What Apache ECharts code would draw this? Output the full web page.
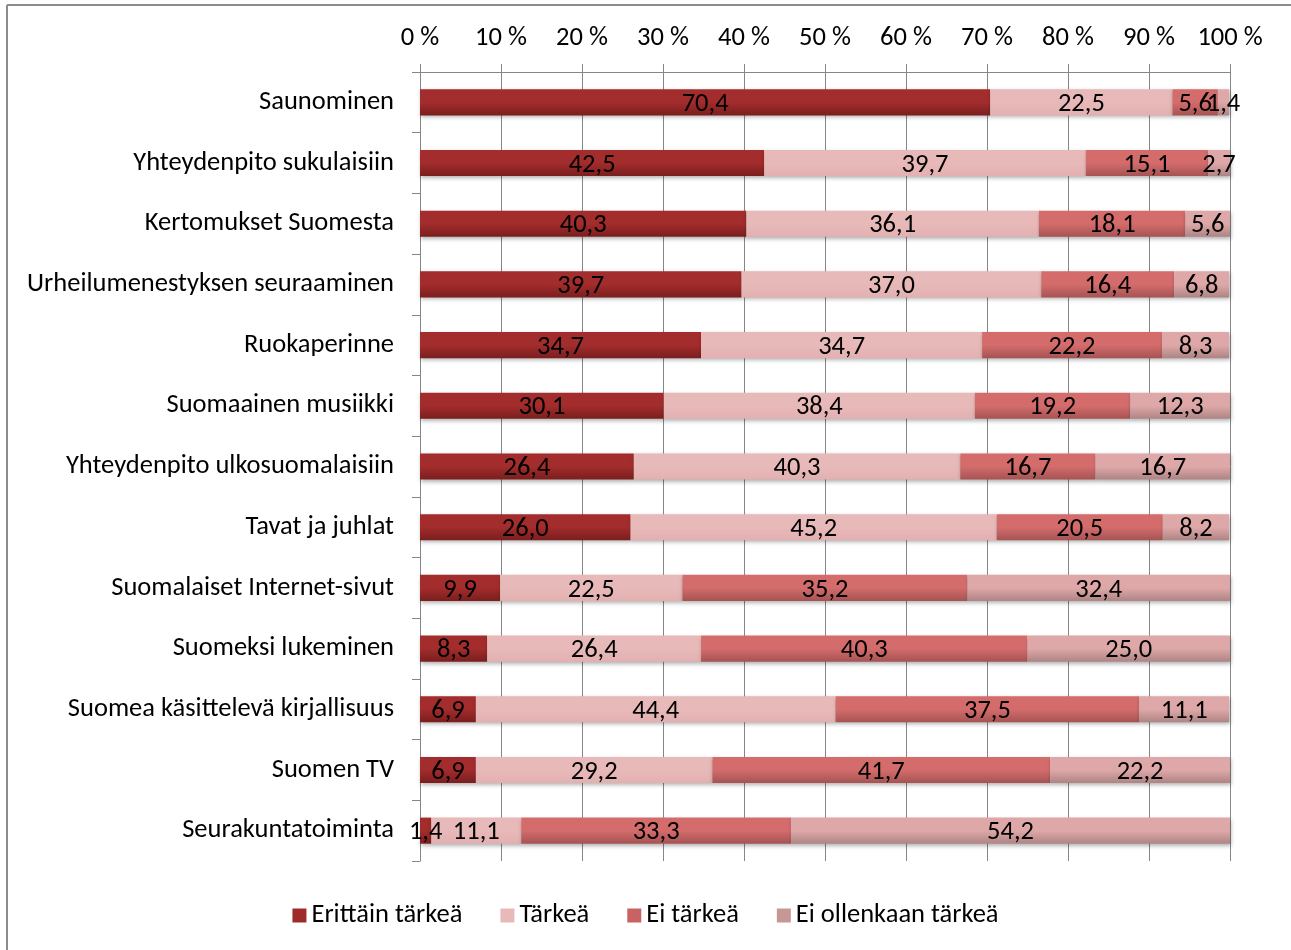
<!DOCTYPE html>
<html><head><meta charset="utf-8">
<script src="https://cdn.jsdelivr.net/npm/echarts@6/dist/echarts.min.js"></script>
<style>html,body{margin:0;padding:0;background:#fff}#c{width:1291px;height:950px}</style>
</head><body><div id="c"></div>
<script>
const categories = ["Saunominen","Yhteydenpito sukulaisiin","Kertomukset Suomesta","Urheilumenestyksen seuraaminen","Ruokaperinne","Suomaainen musiikki","Yhteydenpito ulkosuomalaisiin","Tavat ja juhlat","Suomalaiset Internet-sivut","Suomeksi lukeminen","Suomea käsittelevä kirjallisuus","Suomen TV","Seurakuntatoiminta"];
const seriesNames = ["Erittäin tärkeä","Tärkeä","Ei tärkeä","Ei ollenkaan tärkeä"];
const erittainTarkea = [70.4,42.5,40.3,39.7,34.7,30.1,26.4,26.0,9.9,8.3,6.9,6.9,1.4];
const tarkea = [22.5,39.7,36.1,37.0,34.7,38.4,40.3,45.2,22.5,26.4,44.4,29.2,11.1];
const eiTarkea = [5.6,15.1,18.1,16.4,22.2,19.2,16.7,20.5,35.2,40.3,37.5,41.7,33.3];
const eiOllenkaan = [1.4,2.7,5.6,6.8,8.3,12.3,16.7,8.2,32.4,25.0,11.1,22.2,54.2];
const tickLabels = ["0 %","10 %","20 %","30 %","40 %","50 %","60 %","70 %","80 %","90 %","100 %"];

const FONT = "Carlito, 'Open Sans', 'Noto Sans', sans-serif";
const FS = 26.5;
const grad = (a,b)=>new echarts.graphic.LinearGradient(0,0,0,1,[{offset:0,color:a},{offset:0.5,color:a},{offset:1,color:b}]);
const colors = [grad('#A32C2C','#7A1E1E'), grad('#E8B9B9','#E3B0B0'), grad('#D46C6C','#A65353'), grad('#DFA8A8','#AE8484')];
const legendColors = ['#9E2A2A','#E8B9B9','#C96363','#C99696'];
const all = [erittainTarkea, tarkea, eiTarkea, eiOllenkaan];

const chart = echarts.init(document.getElementById('c'));
chart.setOption({
  animation:false,
  graphic:[
    {type:'line',shape:{x1:7,y1:5,x2:1291,y2:5},style:{stroke:'#8c8c8c',lineWidth:2}},
    {type:'line',shape:{x1:7,y1:5,x2:7,y2:950},style:{stroke:'#8c8c8c',lineWidth:2}}
  ],
  grid:{left:420,right:61,top:72,bottom:89},
  legend:{bottom:16,left:'center',itemWidth:14,itemHeight:14,itemGap:38,icon:'rect',
    textStyle:{fontFamily:FONT,fontSize:FS,color:'#000'},
    data:seriesNames.map((n,i)=>({name:n,itemStyle:{color:legendColors[i]}}))},
  xAxis:{type:'value',position:'top',min:0,max:100,interval:10,
    axisLine:{show:true,lineStyle:{color:'#868686'}},
    axisTick:{show:true,length:8,lineStyle:{color:'#868686'}},
    splitLine:{show:true,lineStyle:{color:'#868686',width:1}},
    axisLabel:{margin:20,fontFamily:FONT,fontSize:FS,color:'#000',formatter:(v)=>tickLabels[Math.round(v/10)]}},
  yAxis:{type:'category',inverse:true,data:categories,
    axisLine:{show:true,lineStyle:{color:'#868686'}},
    axisTick:{show:true,length:8,lineStyle:{color:'#868686'}},
    axisLabel:{margin:26,fontFamily:FONT,fontSize:FS,color:'#000',padding:[8,0,0,0]}},
  series: all.map((d,i)=>({
    name:seriesNames[i],type:'bar',stack:'s',barWidth:'43%',data:d,
    itemStyle:{color:colors[i],shadowColor:'rgba(0,0,0,0.3)',shadowBlur:4,shadowOffsetY:2,shadowOffsetX:1},
    label:{show:true,position:'inside',offset:[0,2],fontFamily:FONT,fontSize:FS,color:'#000',
      formatter:(p)=>p.value.toFixed(1).replace('.',',')}
  }))
});
</script></body></html>
